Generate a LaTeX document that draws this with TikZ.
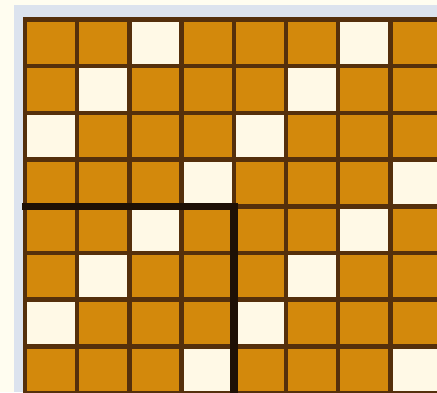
\documentclass[tikz,border=0pt]{standalone}
\definecolor{bg}{HTML}{FFFDF0}
\definecolor{framecol}{HTML}{DCE3EE}
\definecolor{ochre}{HTML}{D3890C}
\definecolor{creamcell}{HTML}{FFF9E6}
\definecolor{gridline}{HTML}{55300C}
\definecolor{thickline}{HTML}{1E1005}
\tikzset{
  cellbox/.style={fill=ochre},
  whitecell/.style={fill=creamcell},
  gridstroke/.style={draw=gridline, line width=4.5pt},
  thickstroke/.style={draw=thickline, line width=7.5pt, line join=miter}
}
\begin{document}
\begin{tikzpicture}[x=1pt,y=-1pt]
\useasboundingbox (0,0) rectangle (437,392);
\fill[bg] (0,0) rectangle (437,392);
\fill[framecol] (14,5) rectangle (437,392);
\clip (0,0) rectangle (437,392);
\def\cw{52.2}
\def\rh{46.7}
\def\xo{25}
\def\yo{19.5}
% cells
\foreach \c in {0,...,7}{
  \foreach \r in {0,...,7}{
    \path[cellbox] (\xo+\cw*\c, \yo+\rh*\r) rectangle +(\cw,\rh);
  }
}
% white cells
\foreach \c/\r in {2/0,6/0,1/1,5/1,0/2,4/2,3/3,7/3,2/4,6/4,1/5,5/5,0/6,4/6,3/7,7/7}{
  \path[whitecell] (\xo+\cw*\c, \yo+\rh*\r) rectangle +(\cw,\rh);
}
% grid lines
\foreach \c in {0,...,8}{
  \draw[gridstroke] (\xo+\cw*\c, \yo-2) -- (\xo+\cw*\c, \yo+\rh*8+2);
}
\foreach \r in {0,...,8}{
  \draw[gridstroke] (\xo-2, \yo+\rh*\r) -- (\xo+\cw*8+2, \yo+\rh*\r);
}
% thick boundary
\draw[thickstroke] (\xo-3, \yo+\rh*4) -- (\xo+\cw*4, \yo+\rh*4) -- (\xo+\cw*4, 400);
\end{tikzpicture}
\end{document}
